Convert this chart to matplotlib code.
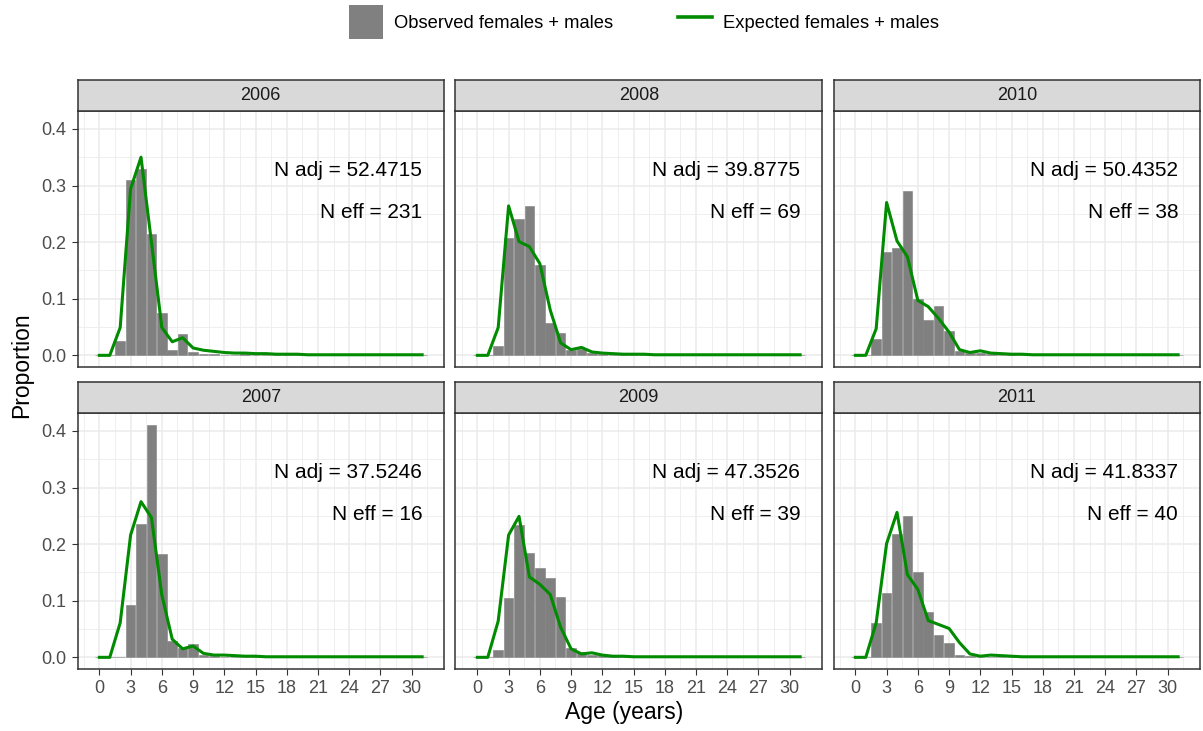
import matplotlib
matplotlib.use("Agg")
import matplotlib.pyplot as plt
import numpy as np
from matplotlib.patches import Patch
from matplotlib.lines import Line2D

plt.rcParams['font.family'] = ['Liberation Sans', 'DejaVu Sans']

ages = list(range(32))

# observed / expected proportions at age, by year
obs_2006 = [0, 0, 0.025, 0.310, 0.329, 0.214, 0.075, 0.009, 0.037, 0.006, 0.003, 0.002,
            0.001, 0, 0.002, 0, 0, 0, 0, 0, 0, 0, 0, 0, 0, 0, 0, 0, 0, 0, 0, 0]
exp_2006 = [0, 0, 0.049, 0.294, 0.350, 0.200, 0.049, 0.024, 0.031, 0.013, 0.009, 0.007,
            0.005, 0.004, 0.004, 0.003, 0.003, 0.002, 0.002, 0.002, 0.001, 0.001, 0.001, 0.001,
            0.001, 0.001, 0.001, 0.001, 0.001, 0.001, 0.001, 0.001]
obs_2007 = [0, 0, 0, 0.092, 0.235, 0.411, 0.182, 0.029, 0.017, 0.024, 0.004, 0.002,
            0.001, 0, 0, 0, 0, 0, 0, 0, 0, 0, 0, 0, 0, 0, 0, 0, 0, 0, 0, 0]
exp_2007 = [0, 0, 0.061, 0.216, 0.275, 0.247, 0.110, 0.032, 0.015, 0.020, 0.007, 0.004,
            0.004, 0.003, 0.002, 0.002, 0.001, 0.001, 0.001, 0.001, 0.001, 0.001, 0.001, 0.001,
            0.001, 0.001, 0.001, 0.001, 0.001, 0.001, 0.001, 0.001]
obs_2008 = [0, 0, 0.016, 0.207, 0.241, 0.264, 0.159, 0.058, 0.039, 0.010, 0.011, 0.004,
            0.002, 0.001, 0, 0, 0, 0, 0, 0, 0, 0, 0, 0, 0, 0, 0, 0, 0, 0, 0, 0]
exp_2008 = [0, 0, 0.049, 0.264, 0.201, 0.192, 0.162, 0.080, 0.022, 0.010, 0.014, 0.006,
            0.004, 0.003, 0.002, 0.002, 0.002, 0.001, 0.001, 0.001, 0.001, 0.001, 0.001, 0.001,
            0.001, 0.001, 0.001, 0.001, 0.001, 0.001, 0.001, 0.001]
obs_2009 = [0, 0, 0.013, 0.104, 0.234, 0.184, 0.157, 0.140, 0.106, 0.016, 0.010, 0.005,
            0.004, 0.002, 0, 0, 0, 0, 0, 0, 0, 0, 0, 0, 0, 0, 0, 0, 0, 0, 0, 0]
exp_2009 = [0, 0, 0.064, 0.216, 0.249, 0.142, 0.129, 0.111, 0.053, 0.015, 0.006, 0.008,
            0.004, 0.002, 0.002, 0.001, 0.001, 0.001, 0.001, 0.001, 0.001, 0.001, 0.001, 0.001,
            0.001, 0.001, 0.001, 0.001, 0.001, 0.001, 0.001, 0.001]
obs_2010 = [0, 0, 0.028, 0.182, 0.190, 0.290, 0.099, 0.062, 0.087, 0.043, 0.008, 0.004,
            0.004, 0.002, 0.001, 0.005, 0.001, 0, 0, 0, 0, 0, 0, 0, 0, 0, 0, 0, 0, 0, 0, 0]
exp_2010 = [0, 0, 0.047, 0.270, 0.202, 0.174, 0.097, 0.086, 0.065, 0.041, 0.010, 0.005,
            0.008, 0.004, 0.003, 0.002, 0.002, 0.001, 0.001, 0.001, 0.001, 0.001, 0.001, 0.001,
            0.001, 0.001, 0.001, 0.001, 0.001, 0.001, 0.001, 0.001]
obs_2011 = [0, 0, 0.060, 0.113, 0.218, 0.249, 0.150, 0.080, 0.039, 0.026, 0.005, 0.002,
            0.001, 0, 0, 0, 0, 0, 0, 0, 0, 0, 0, 0, 0, 0, 0, 0, 0, 0, 0, 0]
exp_2011 = [0, 0, 0.061, 0.201, 0.256, 0.146, 0.120, 0.065, 0.058, 0.051, 0.026, 0.006,
            0.002, 0.004, 0.003, 0.002, 0.001, 0.001, 0.001, 0.001, 0.001, 0.001, 0.001, 0.001,
            0.001, 0.001, 0.001, 0.001, 0.001, 0.001, 0.001, 0.001]

years = [2006, 2008, 2010, 2007, 2009, 2011]
observed = {2006: obs_2006, 2007: obs_2007, 2008: obs_2008,
            2009: obs_2009, 2010: obs_2010, 2011: obs_2011}
expected = {2006: exp_2006, 2007: exp_2007, 2008: exp_2008,
            2009: exp_2009, 2010: exp_2010, 2011: exp_2011}
n_adj = {2006: "52.4715", 2007: "37.5246", 2008: "39.8775",
         2009: "47.3526", 2010: "50.4352", 2011: "41.8337"}
n_eff = {2006: "231", 2007: "16", 2008: "69", 2009: "39", 2010: "38", 2011: "40"}

W, H = 1203, 731
fig = plt.figure(figsize=(W / 100, H / 100), dpi=100)

col_left = [77.5, 455.5, 833.5]
pw = 366.5
row_top = [111, 413]
ph = 256
strip_h = 31

bar_col = "#808080"
line_col = "#008B00"
edge_col = "#333333"
grid_col = "#EBEBEB"

for i, yr in enumerate(years):
    r, c = divmod(i, 3)
    x0 = col_left[c]
    y0 = row_top[r]
    ax = fig.add_axes([x0 / W, 1 - (y0 + ph) / H, pw / W, ph / H])
    sax = fig.add_axes([x0 / W, 1 - y0 / H, pw / W, strip_h / H])

    ax.bar(ages, observed[yr], width=0.92, color=bar_col, edgecolor=bar_col,
           linewidth=0.4, zorder=2)
    ax.plot(ages, expected[yr], color=line_col, lw=2.2, zorder=3,
            solid_joinstyle='round')

    ax.set_xlim(-2.1, 33.1)
    ax.set_ylim(-0.0206, 0.4316)
    ax.set_xticks(np.arange(0, 31, 3))
    ax.set_xticks(np.arange(-1.5, 33, 3), minor=True)
    ax.set_yticks([0.0, 0.1, 0.2, 0.3, 0.4])
    ax.set_yticks([0.05, 0.15, 0.25, 0.35], minor=True)
    ax.grid(which='major', color=grid_col, lw=1.1, zorder=0)
    ax.grid(which='minor', color=grid_col, lw=0.55, zorder=0)
    ax.set_axisbelow(True)
    ax.set_facecolor('white')
    for s in ax.spines.values():
        s.set_color(edge_col)
        s.set_linewidth(1.1)
    ax.tick_params(which='minor', length=0)
    ax.tick_params(which='major', length=4, width=0.8, color=edge_col,
                   labelsize=13, labelcolor="#4D4D4D", pad=4)
    ax.yaxis.set_major_formatter(matplotlib.ticker.FormatStrFormatter('%.1f'))
    if r == 0:
        ax.tick_params(axis='x', length=0, labelbottom=False)
    if c != 0:
        ax.tick_params(axis='y', length=0, labelleft=False)

    ax.text(31, 0.327, "N adj = " + n_adj[yr], ha='right', va='center',
            fontsize=15, color='black')
    ax.text(31, 0.253, "N eff = " + n_eff[yr], ha='right', va='center',
            fontsize=15, color='black')

    sax.set_facecolor("#D9D9D9")
    sax.set_xticks([])
    sax.set_yticks([])
    for s in sax.spines.values():
        s.set_color(edge_col)
        s.set_linewidth(1.1)
    sax.text(0.5, 0.5, str(yr), ha='center', va='center', fontsize=13,
             color="#1A1A1A", transform=sax.transAxes)

fig.text(624 / W, 1 - 712 / H, "Age (years)", ha='center', va='center', fontsize=16.5)
fig.text(22 / W, 1 - 365 / H, "Proportion", ha='center', va='center', fontsize=16.5,
         rotation=90)

handles = [Patch(facecolor=bar_col, edgecolor='none'),
           Line2D([0], [0], color=line_col, lw=2.6)]
fig.legend(handles, ["Observed females + males", "Expected females + males"],
           loc='center', bbox_to_anchor=(0.5353, 1 - 22 / H), ncol=2, frameon=False,
           fontsize=13.2, handlelength=1.86, handleheight=2.4, handletextpad=0.6,
           columnspacing=3.5)

plt.savefig('out.png', dpi=100)
